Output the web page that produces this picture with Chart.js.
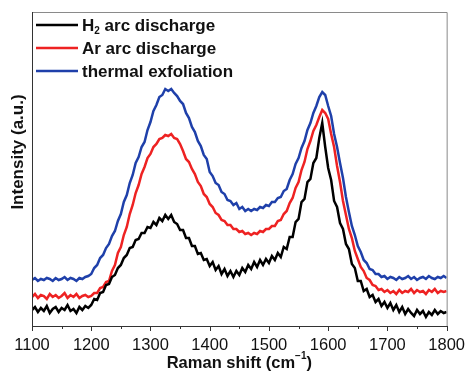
<!DOCTYPE html>
<html>
<head>
<meta charset="utf-8">
<script src="https://cdn.jsdelivr.net/npm/chart.js@4.4.1/dist/chart.umd.min.js"></script>
<style>
  html, body { margin: 0; padding: 0; background: #fff; }
  #wrap { width: 475px; height: 373px; }
</style>
</head>
<body>
<div id="wrap"><canvas id="raman" width="475" height="373"></canvas></div>
<script>
// Raman shift positions (cm-1), one point every 5 cm-1
const ramanShift = [
  1100,1105,1110,1115,1120,1125,1130,1135,1140,1145,1150,1155,1160,1165,1170,1175,1180,1185,1190,1195,
  1200,1205,1210,1215,1220,1225,1230,1235,1240,1245,1250,1255,1260,1265,1270,1275,1280,1285,1290,1295,
  1300,1305,1310,1315,1320,1325,1330,1335,1340,1345,1350,1355,1360,1365,1370,1375,1380,1385,1390,1395,
  1400,1405,1410,1415,1420,1425,1430,1435,1440,1445,1450,1455,1460,1465,1470,1475,1480,1485,1490,1495,
  1500,1505,1510,1515,1520,1525,1530,1535,1540,1545,1550,1555,1560,1565,1570,1575,1580,1585,1590,1595,
  1600,1605,1610,1615,1620,1625,1630,1635,1640,1645,1650,1655,1660,1665,1670,1675,1680,1685,1690,1695,
  1700,1705,1710,1715,1720,1725,1730,1735,1740,1745,1750,1755,1760,1765,1770,1775,1780,1785,1790,1795,
  1800
];

// intensities (a.u.)
const h2Arc = [
  16,19,14,18,15,20,13,17,19,14,18,16,21,15,17,13,19,16,20,18,
  21,27,26,33,34,41,42,49,51,58,61,68,71,78,79,86,87,93,93,99,
  98,104,101,108,105,111,107,111,104,102,96,96,88,88,80,80,72,73,66,67,
  60,64,56,60,52,57,50,55,49,55,51,58,54,61,57,64,59,66,61,67,
  63,70,66,73,69,79,77,89,89,104,107,124,127,144,147,163,168,188,203,179,
  158,146,125,119,103,97,82,77,62,58,45,45,35,37,29,31,24,27,20,24,
  18,23,16,21,14,19,12,17,13,10,16,12,15,9,14,11,16,12,15,13,
  14
];
const arArc = [
  29,32,28,31,30,27,32,29,31,28,30,33,28,31,29,32,28,30,31,29,
  30,33,33,38,39,44,45,55,61,73,79,91,99,112,121,133,141,152,159,168,
  172,179,182,187,188,191,190,192,188,187,182,175,167,164,157,152,144,140,132,129,
  122,119,113,111,106,105,101,101,97,97,94,95,92,93,91,93,92,95,94,97,
  97,100,100,105,106,112,115,123,128,138,144,156,164,177,185,195,201,209,216,213,
  207,192,179,160,144,125,111,97,88,75,67,59,55,48,46,41,40,36,37,34,
  36,33,35,32,36,33,35,34,37,33,36,34,35,32,36,34,37,33,35,34,
  35
];
const thermalExf = [
  46,48,45,47,46,48,47,45,48,46,47,49,46,48,47,45,48,47,49,50,
  52,58,61,68,71,78,82,90,95,105,112,124,131,143,151,163,169,179,184,196,
  204,215,221,229,231,237,235,237,233,230,225,222,213,208,199,194,185,180,171,167,
  154,150,143,141,134,132,126,125,121,123,117,119,115,117,115,117,116,119,118,121,
  120,124,124,128,129,135,137,146,152,162,168,178,185,196,203,213,220,229,234,231,
  220,210,192,179,163,148,129,114,100,91,80,74,66,63,57,56,52,52,49,50,
  47,49,48,46,49,47,48,50,47,49,46,48,49,47,50,48,47,49,48,50,
  48
];

const seriesLabels = ['H₂ arc discharge', 'Ar arc discharge', 'thermal exfoliation'];
const seriesColors = ['#000000', '#ee2222', '#1f40aa'];
const seriesValues = [h2Arc, arArc, thermalExf];

const FONT = '"Liberation Sans", Arial, Helvetica, sans-serif';

function toPoints(values) {
  return values.map((v, i) => ({ x: ramanShift[i], y: v }));
}

// draw text with "₂" as a real subscript and "⁻¹" as a superscript
function drawRich(ctx, text, x, y, size) {
  let cx = x;
  for (const ch of text) {
    if (ch === '₂' || ch === '⁻' || ch === '¹') {
      const small = Math.round(size * 0.6);
      ctx.font = 'bold ' + small + 'px ' + FONT;
      const t = ch === '₂' ? '2' : (ch === '⁻' ? '−' : '1');
      const dy = ch === '₂' ? size * 0.32 : -size * 0.38;
      ctx.fillText(t, cx, y + dy);
      cx += ctx.measureText(t).width;
      ctx.font = 'bold ' + size + 'px ' + FONT;
    } else {
      ctx.fillText(ch, cx, y);
      cx += ctx.measureText(ch).width;
    }
  }
  return cx - x;
}

const decorPlugin = {
  id: 'decor',
  afterDraw(chart) {
    const ctx = chart.ctx;
    const a = chart.chartArea;
    const xs = chart.scales.x;
    ctx.save();

    // frame
    ctx.strokeStyle = '#8a8a8a';
    ctx.lineWidth = 1;
    ctx.beginPath();
    ctx.moveTo(a.left, a.top + 0.5);
    ctx.lineTo(a.right + 0.5, a.top + 0.5);
    ctx.lineTo(a.right + 0.5, a.bottom);
    ctx.stroke();
    ctx.strokeStyle = '#333';
    ctx.beginPath();
    ctx.moveTo(a.left + 0.5, a.top);
    ctx.lineTo(a.left + 0.5, a.bottom + 0.5);
    ctx.lineTo(a.right + 0.5, a.bottom + 0.5);
    ctx.stroke();

    // x tick marks, long at 100, short at 50
    xs.ticks.forEach(t => {
      const px = Math.round(xs.getPixelForValue(t.value)) + 0.5;
      const len = t.value % 100 === 0 ? 5 : 3;
      ctx.beginPath();
      ctx.moveTo(px, a.bottom);
      ctx.lineTo(px, a.bottom + len);
      ctx.stroke();
    });

    ctx.fillStyle = '#111';
    ctx.textBaseline = 'middle';

    // x title
    const xTitle = 'Raman shift (cm⁻¹)';
    ctx.textAlign = 'left';
    let w = 0;
    for (const ch of xTitle) {
      if (ch === '⁻' || ch === '¹') {
        ctx.font = 'bold 10px ' + FONT;
        w += ctx.measureText(ch === '⁻' ? '−' : '1').width;
      } else {
        ctx.font = 'bold 16.5px ' + FONT;
        w += ctx.measureText(ch).width;
      }
    }
    ctx.font = 'bold 16.5px ' + FONT;
    drawRich(ctx, xTitle, (a.left + a.right) / 2 - w / 2, 363, 16.5);

    // y title
    ctx.save();
    ctx.translate(18, 152);
    ctx.rotate(-Math.PI / 2);
    ctx.textAlign = 'center';
    ctx.font = 'bold 17px ' + FONT;
    ctx.fillText('Intensity (a.u.)', 0, 0);
    ctx.restore();

    // legend inside plot
    const rows = [25, 48, 71];
    chart.data.datasets.forEach((ds, i) => {
      ctx.strokeStyle = ds.borderColor;
      ctx.lineWidth = 2.5;
      ctx.beginPath();
      ctx.moveTo(36, rows[i]);
      ctx.lineTo(78, rows[i]);
      ctx.stroke();
      ctx.fillStyle = '#111';
      ctx.font = 'bold 17px ' + FONT;
      ctx.textAlign = 'left';
      drawRich(ctx, ds.label, 82, rows[i] + 1, 17);
    });

    ctx.restore();
  }
};

new Chart(document.getElementById('raman'), {
  type: 'line',
  data: {
    datasets: seriesValues.map((vals, i) => ({
      label: seriesLabels[i],
      data: toPoints(vals),
      borderColor: seriesColors[i],
      borderWidth: 2.5,
      pointRadius: 0,
      tension: 0,
      fill: false
    }))
  },
  options: {
    responsive: false,
    animation: false,
    layout: { padding: { left: 32, right: 19, top: 12, bottom: 0 } },
    plugins: {
      legend: { display: false },
      tooltip: { enabled: false }
    },
    scales: {
      x: {
        type: 'linear',
        min: 1100,
        max: 1800,
        border: { display: false },
        grid: { display: false, drawTicks: false },
        ticks: {
          stepSize: 50,
          padding: 10,
          autoSkip: false,
          maxRotation: 0,
          color: '#111',
          font: { family: FONT, size: 16.5 },
          callback: v => (v % 100 === 0 ? String(v) : '')
        },
        afterFit: s => { s.height = 47; }
      },
      y: {
        display: false,
        min: 0,
        max: 314
      }
    }
  },
  plugins: [decorPlugin]
});
</script>
</body>
</html>
